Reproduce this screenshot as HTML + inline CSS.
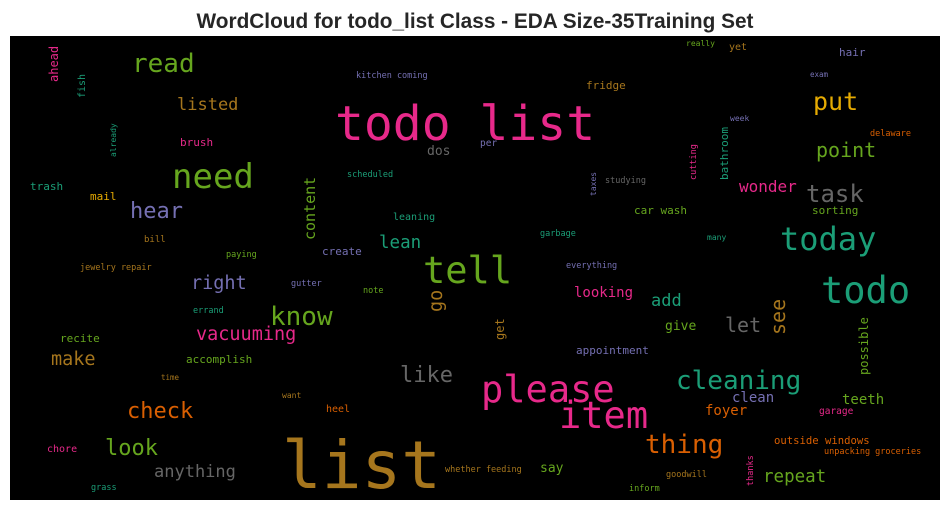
<!DOCTYPE html>
<html><head><meta charset="utf-8"><style>
html,body{margin:0;padding:0;background:#fff;width:950px;height:511px;overflow:hidden}
svg{display:block}
.w{font-family:"DejaVu Sans Mono","Liberation Mono",monospace}
</style></head><body>
<svg width="950" height="511">
<text x="475" y="28" text-anchor="middle" font-family="Liberation Sans, sans-serif" font-weight="bold" font-size="20.8" fill="#262626">WordCloud for todo_list Class - EDA Size-35Training Set</text>
<rect x="10" y="36" width="930" height="464" fill="#000"/>
<g id="cloud"></g>
</svg>
<script>
const words=["todo list","list","please","item","tell","need","todo","today","cleaning","thing","know","read","put","task","point","wonder","hear","listed","check","look","make","vacuuming","right","anything","like","let","see","go","content","add","lean","repeat","looking","give","appointment","possible","get","clean","teeth","foyer","garage","outside windows","unpacking groceries","whether feeding","say","goodwill","thanks","inform","chore","grass","heel","want","time","accomplish","recite","errand","gutter","note","jewelry repair","bill","paying","create","leaning","scheduled","dos","kitchen coming","brush","mail","trash","already","fish","ahead","per","taxes","studying","cutting","bathroom","week","fridge","really","yet","hair","exam","delaware","sorting","car wash","garbage","many","everything"];
const sizes=[48,66,37,37,37,34,37,32,26,26,26,26,25,24,20,16,22,17,22,22,18.5,18.5,18.5,17,22,20,20,18.5,15,17,17.5,17.5,14,13,11,12,12,14,14,14,9.5,10.6,8.5,8.5,13,8.5,8.5,8.5,10,8.5,10,8,7.5,11,11,8.5,8.5,8.5,8.5,9,8.5,11,10,8.5,13,8.5,11,11,11,8,10,12,9.5,8,8.5,8.5,11,8,11,8,10,11,7.5,8.5,11,11,8.5,8,8.5];
const colors=["#e7298a","#a6761d","#e7298a","#e7298a","#66a61e","#66a61e","#1b9e77","#1b9e77","#1b9e77","#d95f02","#66a61e","#66a61e","#e6ab02","#666666","#66a61e","#e7298a","#7570b3","#a6761d","#d95f02","#66a61e","#a6761d","#e7298a","#7570b3","#666666","#666666","#666666","#a6761d","#a6761d","#66a61e","#1b9e77","#1b9e77","#66a61e","#e7298a","#66a61e","#7570b3","#66a61e","#a6761d","#7570b3","#66a61e","#d95f02","#e7298a","#d95f02","#d95f02","#a6761d","#66a61e","#a6761d","#e7298a","#66a61e","#e7298a","#1b9e77","#d95f02","#a6761d","#a6761d","#66a61e","#66a61e","#1b9e77","#7570b3","#66a61e","#a6761d","#a6761d","#66a61e","#7570b3","#1b9e77","#1b9e77","#666666","#7570b3","#e7298a","#e6ab02","#1b9e77","#1b9e77","#1b9e77","#e7298a","#7570b3","#7570b3","#666666","#e7298a","#1b9e77","#7570b3","#a6761d","#66a61e","#a6761d","#7570b3","#7570b3","#d95f02","#66a61e","#66a61e","#1b9e77","#1b9e77","#7570b3"];
const xs=[335,282,481,559,423,172,821,780,676,645,270,132,813,806,816,739,130,177,127,105,51,196,191,154,400,725,785,442,315,651,379,763,574,665,576,868,504,732,842,705,819,774,824,445,540,666,753,629,47,91,326,282,161,186,60,193,291,363,80,144,226,322,393,347,427,356,180,90,30,116,85,58,480,596,605,696,728,730,586,686,729,839,810,870,812,634,540,707,566];
const ys=[140,488,402,428,283,188,303,250,389,453,325,72,110,202,157,192,218,110,418,455,365,340,289,477,382,332,335,312,240,306,248,482,297,330,354,375,340,402,404,415,414,444,454,472,472,477,486,491,452,490,412,398,380,363,342,313,286,293,270,242,257,255,220,177,155,78,146,200,190,157,98,82,146,196,183,180,180,121,89,46,50,56,77,136,214,214,236,240,268];
const rots=[0,0,0,0,0,0,0,0,0,0,0,0,0,0,0,0,0,0,0,0,0,0,0,0,0,0,1,1,1,0,0,0,0,0,0,1,1,0,0,0,0,0,0,0,0,0,1,0,0,0,0,0,0,0,0,0,0,0,0,0,0,0,0,0,0,0,0,0,0,1,1,1,0,1,0,1,1,0,0,0,0,0,0,0,0,0,0,0,0];
const g=document.getElementById('cloud');
const NS='http://www.w3.org/2000/svg';
words.forEach((w,i)=>{
  const t=document.createElementNS(NS,'text');
  t.setAttribute('class','w');
  t.setAttribute('x',xs[i]);
  t.setAttribute('y',ys[i]);
  t.setAttribute('font-size',sizes[i]);
  t.setAttribute('fill',colors[i]);
  if(rots[i]) t.setAttribute('transform','rotate(-90 '+xs[i]+' '+ys[i]+')');
  t.textContent=w;
  
  
  g.appendChild(t);
});
</script>
</body></html>
